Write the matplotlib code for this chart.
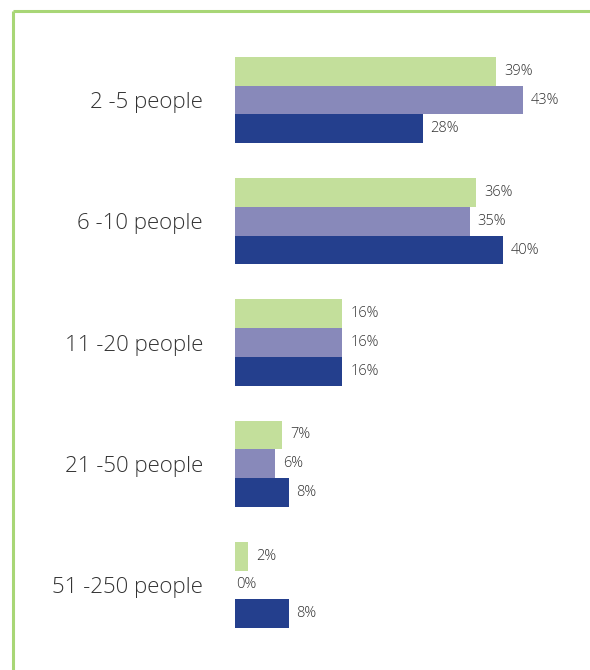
import matplotlib
matplotlib.use('Agg')
import matplotlib.pyplot as plt
from matplotlib.lines import Line2D
import numpy as np

# ─── Data ───
categories = ["2 -5 people", "6 -10 people", "11 -20 people", "21 -50 people", "51 -250 people"]
series_a = [39, 36, 16, 7, 2]    # top bar (light green)
series_b = [43, 35, 16, 6, 0]    # middle bar (lavender)
series_c = [28, 40, 16, 8, 8]    # bottom bar (navy)

colors = ["#c3df9b", "#8889ba", "#243f8d"]
text_color = "#333333"
frame_color = "#a8d676"

W, H = 590, 670
fig = plt.figure(figsize=(W / 100, H / 100), dpi=100)
fig.patch.set_facecolor("white")

# axes placed in pixel terms: bars start at x=235, groups spaced ~121px
ax_left, ax_right = 235, 590
ax_top, ax_bottom = 39.5, 645.5
ax = fig.add_axes([ax_left / W, (H - ax_bottom) / H,
                   (ax_right - ax_left) / W, (ax_bottom - ax_top) / H])

px_per_unit = 6.70
ax.set_xlim(0, (ax_right - ax_left) / px_per_unit)
ax.set_ylim(len(categories) - 0.5, -0.5)

y = np.arange(len(categories))
bh = 0.237
for k, vals in enumerate([series_a, series_b, series_c]):
    ypos = y + (k - 1) * bh
    ax.barh(ypos, vals, height=bh, color=colors[k], edgecolor="none", zorder=2)
    for yy, v in zip(ypos, vals):
        off = 8 if v > 0 else 1
        ax.annotate(f"{v}%", (v, yy), xytext=(off, 0), textcoords="offset pixels",
                    ha="left", va="center", fontsize=10.5, color=text_color,
                    family="Open Sans", fontweight="light")

ax.set_yticks(y)
ax.set_yticklabels(categories, fontsize=16, color=text_color, family="Open Sans",
                   fontweight="light")
ax.tick_params(axis="y", length=0, pad=23)
ax.set_xticks([])
for s in ax.spines.values():
    s.set_visible(False)
ax.patch.set_alpha(0)

# light green frame along the top and left edges
fx, fy = 12.5 / W, 1 - 10.5 / H
fig.add_artist(Line2D([fx, fx], [0, fy], transform=fig.transFigure,
                      color=frame_color, lw=2.2, solid_capstyle="butt"))
fig.add_artist(Line2D([fx, 1], [fy, fy], transform=fig.transFigure,
                      color=frame_color, lw=2.2, solid_capstyle="butt"))

fig.savefig("out.png", dpi=100, facecolor="white")
plt.close(fig)
